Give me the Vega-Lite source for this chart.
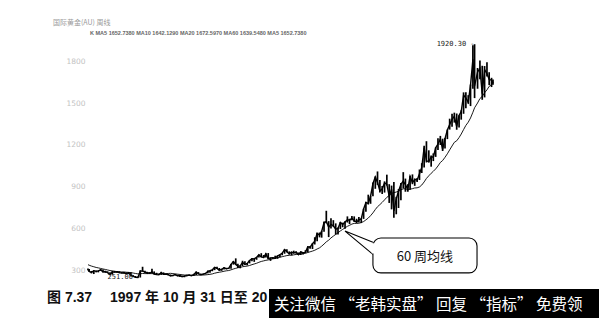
{
  "$schema": "https://vega.github.io/schema/vega-lite/v6.json",
  "background": "white",
  "padding": {"left": 47, "right": 0, "top": 18, "bottom": 0},
  "spacing": 6,
  "config": {
    "view": {"stroke": null},
    "axisY": {"grid": false, "domain": false, "ticks": false, "labelPadding": 3, "labelFont": "DejaVu Sans", "labelFontSize": 7.5, "labelColor": "#c2c2c2", "format": "d"}
  },
  "title": {
    "text": "国际黄金(AU) 周线",
    "anchor": "start",
    "frame": "bounds",
    "dx": 6,
    "offset": 5,
    "font": "Noto Sans CJK SC",
    "fontSize": 7,
    "fontWeight": "normal",
    "color": "#9a9a9a"
  },
  "datasets": {
    "gold": [
      {"d": "1997-10-31", "h": 318, "l": 305, "c": 311, "m": 345},
      {"d": "1997-11-15", "h": 314, "l": 295, "c": 296, "m": 341},
      {"d": "1997-12-15", "h": 300, "l": 283, "c": 290, "m": 335},
      {"d": "1998-01-15", "h": 305, "l": 278, "c": 302, "m": 330},
      {"d": "1998-02-15", "h": 303, "l": 290, "c": 297, "m": 325},
      {"d": "1998-03-15", "h": 304, "l": 290, "c": 301, "m": 322},
      {"d": "1998-04-15", "h": 314, "l": 300, "c": 308, "m": 318},
      {"d": "1998-05-15", "h": 311, "l": 291, "c": 293, "m": 314},
      {"d": "1998-06-15", "h": 301, "l": 287, "c": 296, "m": 311},
      {"d": "1998-07-15", "h": 297, "l": 287, "c": 288, "m": 307},
      {"d": "1998-08-15", "h": 290, "l": 271, "c": 273, "m": 303},
      {"d": "1998-09-15", "h": 301, "l": 274, "c": 293, "m": 300},
      {"d": "1998-10-15", "h": 300, "l": 288, "c": 292, "m": 298},
      {"d": "1998-11-15", "h": 300, "l": 288, "c": 294, "m": 295},
      {"d": "1998-12-15", "h": 298, "l": 284, "c": 288, "m": 294},
      {"d": "1999-01-15", "h": 292, "l": 283, "c": 285, "m": 293},
      {"d": "1999-02-15", "h": 292, "l": 282, "c": 287, "m": 293},
      {"d": "1999-03-15", "h": 290, "l": 278, "c": 280, "m": 291},
      {"d": "1999-04-15", "h": 291, "l": 278, "c": 286, "m": 290},
      {"d": "1999-05-15", "h": 290, "l": 268, "c": 268, "m": 288},
      {"d": "1999-06-15", "h": 270, "l": 257, "c": 261, "m": 285},
      {"d": "1999-07-15", "h": 264, "l": 252, "c": 255, "m": 282},
      {"d": "1999-08-15", "h": 260, "l": 251, "c": 254, "m": 279},
      {"d": "1999-09-15", "h": 305, "l": 253, "c": 299, "m": 280},
      {"d": "1999-10-15", "h": 330, "l": 295, "c": 300, "m": 282},
      {"d": "1999-11-15", "h": 302, "l": 288, "c": 291, "m": 281},
      {"d": "1999-12-15", "h": 292, "l": 278, "c": 290, "m": 281},
      {"d": "2000-01-15", "h": 292, "l": 280, "c": 283, "m": 281},
      {"d": "2000-02-15", "h": 315, "l": 283, "c": 293, "m": 281},
      {"d": "2000-03-15", "h": 297, "l": 276, "c": 277, "m": 280},
      {"d": "2000-04-15", "h": 287, "l": 272, "c": 274, "m": 279},
      {"d": "2000-05-15", "h": 279, "l": 271, "c": 272, "m": 279},
      {"d": "2000-06-15", "h": 294, "l": 272, "c": 288, "m": 279},
      {"d": "2000-07-15", "h": 290, "l": 275, "c": 276, "m": 280},
      {"d": "2000-08-15", "h": 280, "l": 273, "c": 277, "m": 281},
      {"d": "2000-09-15", "h": 278, "l": 270, "c": 273, "m": 282},
      {"d": "2000-10-15", "h": 275, "l": 264, "c": 264, "m": 283},
      {"d": "2000-11-15", "h": 272, "l": 263, "c": 269, "m": 281},
      {"d": "2000-12-15", "h": 275, "l": 268, "c": 274, "m": 279},
      {"d": "2001-01-15", "h": 273, "l": 262, "c": 265, "m": 277},
      {"d": "2001-02-15", "h": 268, "l": 256, "c": 267, "m": 275},
      {"d": "2001-03-15", "h": 268, "l": 256, "c": 258, "m": 273},
      {"d": "2001-04-15", "h": 265, "l": 255, "c": 264, "m": 271},
      {"d": "2001-05-15", "h": 273, "l": 262, "c": 267, "m": 271},
      {"d": "2001-06-15", "h": 275, "l": 265, "c": 270, "m": 270},
      {"d": "2001-07-15", "h": 271, "l": 264, "c": 266, "m": 270},
      {"d": "2001-08-15", "h": 280, "l": 265, "c": 273, "m": 269},
      {"d": "2001-09-15", "h": 294, "l": 271, "c": 293, "m": 270},
      {"d": "2001-10-15", "h": 292, "l": 278, "c": 279, "m": 270},
      {"d": "2001-11-15", "h": 280, "l": 270, "c": 275, "m": 270},
      {"d": "2001-12-15", "h": 281, "l": 273, "c": 277, "m": 271},
      {"d": "2002-01-15", "h": 286, "l": 276, "c": 282, "m": 272},
      {"d": "2002-02-15", "h": 303, "l": 283, "c": 297, "m": 274},
      {"d": "2002-03-15", "h": 304, "l": 288, "c": 302, "m": 276},
      {"d": "2002-04-15", "h": 310, "l": 298, "c": 308, "m": 279},
      {"d": "2002-05-15", "h": 327, "l": 306, "c": 326, "m": 284},
      {"d": "2002-06-15", "h": 330, "l": 314, "c": 318, "m": 288},
      {"d": "2002-07-15", "h": 321, "l": 302, "c": 305, "m": 291},
      {"d": "2002-08-15", "h": 316, "l": 301, "c": 312, "m": 294},
      {"d": "2002-09-15", "h": 326, "l": 310, "c": 323, "m": 298},
      {"d": "2002-10-15", "h": 322, "l": 311, "c": 317, "m": 301},
      {"d": "2002-11-15", "h": 322, "l": 315, "c": 319, "m": 303},
      {"d": "2002-12-15", "h": 349, "l": 316, "c": 347, "m": 308},
      {"d": "2003-01-15", "h": 370, "l": 345, "c": 367, "m": 314},
      {"d": "2003-02-15", "h": 390, "l": 345, "c": 347, "m": 319},
      {"d": "2003-03-15", "h": 352, "l": 321, "c": 334, "m": 323},
      {"d": "2003-04-15", "h": 340, "l": 319, "c": 336, "m": 326},
      {"d": "2003-05-15", "h": 373, "l": 335, "c": 361, "m": 330},
      {"d": "2003-06-15", "h": 370, "l": 344, "c": 346, "m": 333},
      {"d": "2003-07-15", "h": 357, "l": 340, "c": 354, "m": 335},
      {"d": "2003-08-15", "h": 377, "l": 354, "c": 375, "m": 339},
      {"d": "2003-09-15", "h": 391, "l": 370, "c": 388, "m": 345},
      {"d": "2003-10-15", "h": 390, "l": 365, "c": 386, "m": 350},
      {"d": "2003-11-15", "h": 400, "l": 380, "c": 398, "m": 355},
      {"d": "2003-12-15", "h": 417, "l": 397, "c": 416, "m": 362},
      {"d": "2004-01-15", "h": 427, "l": 398, "c": 400, "m": 368},
      {"d": "2004-02-15", "h": 414, "l": 392, "c": 396, "m": 372},
      {"d": "2004-03-15", "h": 427, "l": 396, "c": 423, "m": 376},
      {"d": "2004-04-15", "h": 428, "l": 385, "c": 388, "m": 379},
      {"d": "2004-05-15", "h": 395, "l": 372, "c": 393, "m": 383},
      {"d": "2004-06-15", "h": 397, "l": 386, "c": 395, "m": 387},
      {"d": "2004-07-15", "h": 409, "l": 387, "c": 391, "m": 389},
      {"d": "2004-08-15", "h": 412, "l": 387, "c": 407, "m": 394},
      {"d": "2004-09-15", "h": 416, "l": 398, "c": 416, "m": 398},
      {"d": "2004-10-15", "h": 428, "l": 412, "c": 428, "m": 402},
      {"d": "2004-11-15", "h": 455, "l": 423, "c": 453, "m": 406},
      {"d": "2004-12-15", "h": 456, "l": 434, "c": 438, "m": 410},
      {"d": "2005-01-15", "h": 440, "l": 418, "c": 422, "m": 412},
      {"d": "2005-02-15", "h": 437, "l": 411, "c": 435, "m": 413},
      {"d": "2005-03-15", "h": 445, "l": 425, "c": 428, "m": 415},
      {"d": "2005-04-15", "h": 437, "l": 423, "c": 436, "m": 418},
      {"d": "2005-05-15", "h": 432, "l": 414, "c": 417, "m": 418},
      {"d": "2005-06-15", "h": 441, "l": 414, "c": 435, "m": 421},
      {"d": "2005-07-15", "h": 432, "l": 417, "c": 430, "m": 424},
      {"d": "2005-08-15", "h": 448, "l": 428, "c": 433, "m": 426},
      {"d": "2005-09-15", "h": 476, "l": 433, "c": 473, "m": 432},
      {"d": "2005-10-15", "h": 479, "l": 459, "c": 470, "m": 437},
      {"d": "2005-11-15", "h": 497, "l": 457, "c": 495, "m": 442},
      {"d": "2005-12-15", "h": 541, "l": 489, "c": 513, "m": 448},
      {"d": "2006-01-15", "h": 573, "l": 513, "c": 569, "m": 457},
      {"d": "2006-02-15", "h": 575, "l": 540, "c": 556, "m": 465},
      {"d": "2006-03-15", "h": 587, "l": 538, "c": 582, "m": 477},
      {"d": "2006-04-15", "h": 654, "l": 580, "c": 644, "m": 492},
      {"d": "2006-05-15", "h": 730, "l": 640, "c": 653, "m": 508},
      {"d": "2006-06-15", "h": 656, "l": 542, "c": 613, "m": 520},
      {"d": "2006-07-15", "h": 677, "l": 604, "c": 633, "m": 536},
      {"d": "2006-08-15", "h": 663, "l": 615, "c": 623, "m": 549},
      {"d": "2006-09-15", "h": 640, "l": 560, "c": 599, "m": 561},
      {"d": "2006-10-15", "h": 611, "l": 561, "c": 604, "m": 573},
      {"d": "2006-11-15", "h": 650, "l": 600, "c": 646, "m": 586},
      {"d": "2006-12-15", "h": 645, "l": 612, "c": 632, "m": 597},
      {"d": "2007-01-15", "h": 655, "l": 602, "c": 650, "m": 608},
      {"d": "2007-02-15", "h": 690, "l": 646, "c": 665, "m": 619},
      {"d": "2007-03-15", "h": 673, "l": 635, "c": 662, "m": 626},
      {"d": "2007-04-15", "h": 693, "l": 663, "c": 677, "m": 635},
      {"d": "2007-05-15", "h": 690, "l": 650, "c": 659, "m": 640},
      {"d": "2007-06-15", "h": 673, "l": 641, "c": 650, "m": 640},
      {"d": "2007-07-15", "h": 685, "l": 647, "c": 665, "m": 641},
      {"d": "2007-08-15", "h": 675, "l": 642, "c": 672, "m": 646},
      {"d": "2007-09-15", "h": 745, "l": 672, "c": 743, "m": 653},
      {"d": "2007-10-15", "h": 795, "l": 723, "c": 789, "m": 665},
      {"d": "2007-11-15", "h": 845, "l": 775, "c": 783, "m": 678},
      {"d": "2007-12-15", "h": 836, "l": 780, "c": 834, "m": 695},
      {"d": "2008-01-15", "h": 932, "l": 834, "c": 923, "m": 715},
      {"d": "2008-02-15", "h": 975, "l": 887, "c": 971, "m": 739},
      {"d": "2008-03-15", "h": 1011, "l": 915, "c": 933, "m": 759},
      {"d": "2008-04-15", "h": 950, "l": 860, "c": 871, "m": 774},
      {"d": "2008-05-15", "h": 907, "l": 850, "c": 885, "m": 790},
      {"d": "2008-06-15", "h": 940, "l": 860, "c": 930, "m": 808},
      {"d": "2008-07-15", "h": 988, "l": 910, "c": 918, "m": 826},
      {"d": "2008-08-15", "h": 920, "l": 786, "c": 833, "m": 839},
      {"d": "2008-09-15", "h": 910, "l": 740, "c": 884, "m": 855},
      {"d": "2008-10-15", "h": 935, "l": 681, "c": 730, "m": 859},
      {"d": "2008-11-15", "h": 830, "l": 705, "c": 814, "m": 864},
      {"d": "2008-12-15", "h": 885, "l": 750, "c": 869, "m": 870},
      {"d": "2009-01-15", "h": 928, "l": 805, "c": 919, "m": 880},
      {"d": "2009-02-15", "h": 1006, "l": 890, "c": 942, "m": 887},
      {"d": "2009-03-15", "h": 960, "l": 866, "c": 916, "m": 887},
      {"d": "2009-04-15", "h": 920, "l": 866, "c": 883, "m": 881},
      {"d": "2009-05-15", "h": 980, "l": 880, "c": 975, "m": 884},
      {"d": "2009-06-15", "h": 990, "l": 920, "c": 930, "m": 888},
      {"d": "2009-07-15", "h": 960, "l": 908, "c": 955, "m": 893},
      {"d": "2009-08-15", "h": 965, "l": 935, "c": 949, "m": 894},
      {"d": "2009-09-15", "h": 1025, "l": 950, "c": 995, "m": 900},
      {"d": "2009-10-15", "h": 1070, "l": 1000, "c": 1040, "m": 914},
      {"d": "2009-11-15", "h": 1195, "l": 1040, "c": 1182, "m": 936},
      {"d": "2009-12-15", "h": 1227, "l": 1075, "c": 1087, "m": 961},
      {"d": "2010-01-15", "h": 1162, "l": 1075, "c": 1081, "m": 980},
      {"d": "2010-02-15", "h": 1125, "l": 1045, "c": 1116, "m": 998},
      {"d": "2010-03-15", "h": 1140, "l": 1085, "c": 1113, "m": 1012},
      {"d": "2010-04-15", "h": 1183, "l": 1115, "c": 1180, "m": 1029},
      {"d": "2010-05-15", "h": 1249, "l": 1165, "c": 1207, "m": 1050},
      {"d": "2010-06-15", "h": 1265, "l": 1200, "c": 1244, "m": 1075},
      {"d": "2010-07-15", "h": 1245, "l": 1157, "c": 1169, "m": 1089},
      {"d": "2010-08-15", "h": 1250, "l": 1175, "c": 1246, "m": 1112},
      {"d": "2010-09-15", "h": 1310, "l": 1242, "c": 1307, "m": 1137},
      {"d": "2010-10-15", "h": 1388, "l": 1310, "c": 1346, "m": 1165},
      {"d": "2010-11-15", "h": 1424, "l": 1330, "c": 1383, "m": 1193},
      {"d": "2010-12-15", "h": 1431, "l": 1360, "c": 1405, "m": 1219},
      {"d": "2011-01-15", "h": 1425, "l": 1309, "c": 1332, "m": 1230},
      {"d": "2011-02-15", "h": 1413, "l": 1325, "c": 1411, "m": 1253},
      {"d": "2011-03-15", "h": 1448, "l": 1381, "c": 1439, "m": 1278},
      {"d": "2011-04-15", "h": 1576, "l": 1423, "c": 1556, "m": 1310},
      {"d": "2011-05-15", "h": 1577, "l": 1462, "c": 1536, "m": 1340},
      {"d": "2011-06-15", "h": 1556, "l": 1495, "c": 1505, "m": 1363},
      {"d": "2011-07-15", "h": 1632, "l": 1478, "c": 1628, "m": 1393},
      {"d": "2011-08-15", "h": 1913, "l": 1602, "c": 1813, "m": 1434},
      {"d": "2011-09-06", "h": 1920, "l": 1535, "c": 1620, "m": 1466},
      {"d": "2011-10-15", "h": 1750, "l": 1602, "c": 1722, "m": 1500},
      {"d": "2011-11-15", "h": 1803, "l": 1670, "c": 1746, "m": 1532},
      {"d": "2011-12-15", "h": 1766, "l": 1523, "c": 1566, "m": 1547},
      {"d": "2012-01-15", "h": 1764, "l": 1540, "c": 1738, "m": 1573},
      {"d": "2012-02-15", "h": 1792, "l": 1690, "c": 1710, "m": 1594},
      {"d": "2012-03-15", "h": 1720, "l": 1628, "c": 1669, "m": 1619},
      {"d": "2012-04-15", "h": 1680, "l": 1614, "c": 1663, "m": 1632},
      {"d": "2012-05-04", "h": 1668, "l": 1630, "c": 1642, "m": 1640}
    ]
  },
  "vconcat": [
    {
      "width": 405,
      "height": 242,
      "title": {
        "text": "K  MA5 1652.7380  MA10 1642.1290  MA20 1672.5970  MA60 1639.5480  MA5 1652.7380",
        "anchor": "start",
        "frame": "group",
        "dx": 2,
        "offset": 4,
        "font": "Liberation Sans",
        "fontSize": 5.5,
        "fontWeight": "bold",
        "color": "#666666"
      },
      "layer": [
        {
          "data": {"name": "gold"},
          "mark": {"type": "rule", "color": "black", "strokeWidth": 1.7},
          "encoding": {
            "x": {"field": "d", "type": "temporal", "scale": {"domain": [{"year": 1997, "month": 10, "date": 31}, {"year": 2012, "month": 5, "date": 4}]}, "axis": null},
            "y": {"field": "l", "type": "quantitative", "scale": {"domain": [214, 1943], "zero": false, "nice": false}, "title": null, "axis": {"values": [300, 600, 900, 1200, 1500, 1800], "title": null}},
            "y2": {"field": "h"}
          }
        },
        {
          "data": {"name": "gold"},
          "mark": {"type": "line", "color": "black", "strokeWidth": 1.4},
          "encoding": {
            "x": {"field": "d", "type": "temporal", "scale": {"domain": [{"year": 1997, "month": 10, "date": 31}, {"year": 2012, "month": 5, "date": 4}]}, "axis": null},
            "y": {"field": "c", "type": "quantitative", "scale": {"domain": [214, 1943], "zero": false, "nice": false}, "title": null, "axis": {"values": [300, 600, 900, 1200, 1500, 1800], "title": null}}
          }
        },
        {
          "data": {"name": "gold"},
          "mark": {"type": "line", "color": "black", "strokeWidth": 0.9},
          "encoding": {
            "x": {"field": "d", "type": "temporal", "scale": {"domain": [{"year": 1997, "month": 10, "date": 31}, {"year": 2012, "month": 5, "date": 4}]}, "axis": null},
            "y": {"field": "m", "type": "quantitative", "scale": {"domain": [214, 1943], "zero": false, "nice": false}, "title": null, "axis": {"values": [300, 600, 900, 1200, 1500, 1800], "title": null}}
          }
        },
        {
          "data": {"values": [{"d": "2008-01-15", "v": 505, "o": 1}, {"d": "2007-01-15", "v": 585, "o": 2}, {"d": "2008-01-15", "v": 418, "o": 3}]},
          "mark": {"type": "line", "color": "black", "strokeWidth": 1.1},
          "encoding": {
            "x": {"field": "d", "type": "temporal", "scale": {"domain": [{"year": 1997, "month": 10, "date": 31}, {"year": 2012, "month": 5, "date": 4}]}, "axis": null},
            "y": {"field": "v", "type": "quantitative", "scale": {"domain": [214, 1943], "zero": false, "nice": false}, "title": null, "axis": {"values": [300, 600, 900, 1200, 1500, 1800], "title": null}},
            "order": {"field": "o", "type": "quantitative"}
          }
        },
        {
          "data": {"values": [{"d": "2008-01-15", "d2": "2011-10-08", "v": 286, "v2": 535}]},
          "mark": {"type": "rect", "fill": "white", "stroke": "black", "strokeWidth": 1.1, "cornerRadius": 8},
          "encoding": {
            "x": {"field": "d", "type": "temporal", "scale": {"domain": [{"year": 1997, "month": 10, "date": 31}, {"year": 2012, "month": 5, "date": 4}]}, "axis": null},
            "x2": {"field": "d2"},
            "y": {"field": "v", "type": "quantitative", "scale": {"domain": [214, 1943], "zero": false, "nice": false}, "title": null, "axis": {"values": [300, 600, 900, 1200, 1500, 1800], "title": null}},
            "y2": {"field": "v2"}
          }
        },
        {
          "data": {"values": [{"d": "2008-01-15", "v": 498, "v2": 425}]},
          "mark": {"type": "rule", "color": "white", "strokeWidth": 2.5},
          "encoding": {
            "x": {"field": "d", "type": "temporal", "scale": {"domain": [{"year": 1997, "month": 10, "date": 31}, {"year": 2012, "month": 5, "date": 4}]}, "axis": null},
            "y": {"field": "v", "type": "quantitative", "scale": {"domain": [214, 1943], "zero": false, "nice": false}, "title": null, "axis": {"values": [300, 600, 900, 1200, 1500, 1800], "title": null}},
            "y2": {"field": "v2"}
          }
        },
        {
          "data": {"values": [{"d": "2009-11-25", "v": 400, "t": "60 周均线"}]},
          "mark": {"type": "text", "font": "Noto Sans CJK SC", "fontSize": 13, "color": "#111111"},
          "encoding": {
            "x": {"field": "d", "type": "temporal", "scale": {"domain": [{"year": 1997, "month": 10, "date": 31}, {"year": 2012, "month": 5, "date": 4}]}, "axis": null},
            "y": {"field": "v", "type": "quantitative", "scale": {"domain": [214, 1943], "zero": false, "nice": false}, "title": null, "axis": {"values": [300, 600, 900, 1200, 1500, 1800], "title": null}},
            "text": {"field": "t"}
          }
        },
        {
          "data": {"values": [{"d": "2011-09-06", "v": 1920, "t": "1920.30 -"}]},
          "mark": {"type": "text", "font": "DejaVu Sans Mono", "fontSize": 7, "align": "right", "baseline": "middle", "dx": 0, "color": "#222222"},
          "encoding": {
            "x": {"field": "d", "type": "temporal", "scale": {"domain": [{"year": 1997, "month": 10, "date": 31}, {"year": 2012, "month": 5, "date": 4}]}, "axis": null},
            "y": {"field": "v", "type": "quantitative", "scale": {"domain": [214, 1943], "zero": false, "nice": false}, "title": null, "axis": {"values": [300, 600, 900, 1200, 1500, 1800], "title": null}},
            "text": {"field": "t"}
          }
        },
        {
          "data": {"values": [{"d": "1999-08-15", "v": 251, "t": "251.00"}]},
          "mark": {"type": "text", "font": "DejaVu Sans Mono", "fontSize": 7, "align": "right", "baseline": "middle", "dx": -5, "dy": -1, "color": "#222222"},
          "encoding": {
            "x": {"field": "d", "type": "temporal", "scale": {"domain": [{"year": 1997, "month": 10, "date": 31}, {"year": 2012, "month": 5, "date": 4}]}, "axis": null},
            "y": {"field": "v", "type": "quantitative", "scale": {"domain": [214, 1943], "zero": false, "nice": false}, "title": null, "axis": {"values": [300, 600, 900, 1200, 1500, 1800], "title": null}},
            "text": {"field": "t"}
          }
        }
      ]
    },
    {
      "spacing": 0,
      "bounds": "flush",
      "hconcat": [
        {
          "width": 181,
          "height": 30,
          "data": {"values": [{"k": 1}]},
          "mark": {"type": "rect", "color": "white", "opacity": 0},
          "encoding": {},
          "title": {
            "text": "图 7.37\u2003 1997 年 10 月 31 日至 20",
            "anchor": "start",
            "frame": "group",
            "orient": "top",
            "offset": -16,
            "dx": -41,
            "font": "Liberation Sans, Noto Sans CJK SC",
            "fontSize": 14,
            "fontWeight": "bold",
            "color": "#111111"
          }
        },
        {
          "width": 330,
          "height": 30,
          "view": {"fill": "black"},
          "data": {"values": [{"k": 1}]},
          "mark": {"type": "rect", "color": "black"},
          "encoding": {},
          "title": {
            "text": "关注微信 “老韩实盘” 回复 “指标” 免费领",
            "anchor": "start",
            "frame": "group",
            "orient": "top",
            "offset": -24,
            "dx": 5,
            "font": "Noto Sans CJK SC",
            "fontSize": 15.5,
            "fontWeight": "normal",
            "color": "white"
          }
        }
      ]
    }
  ]
}
